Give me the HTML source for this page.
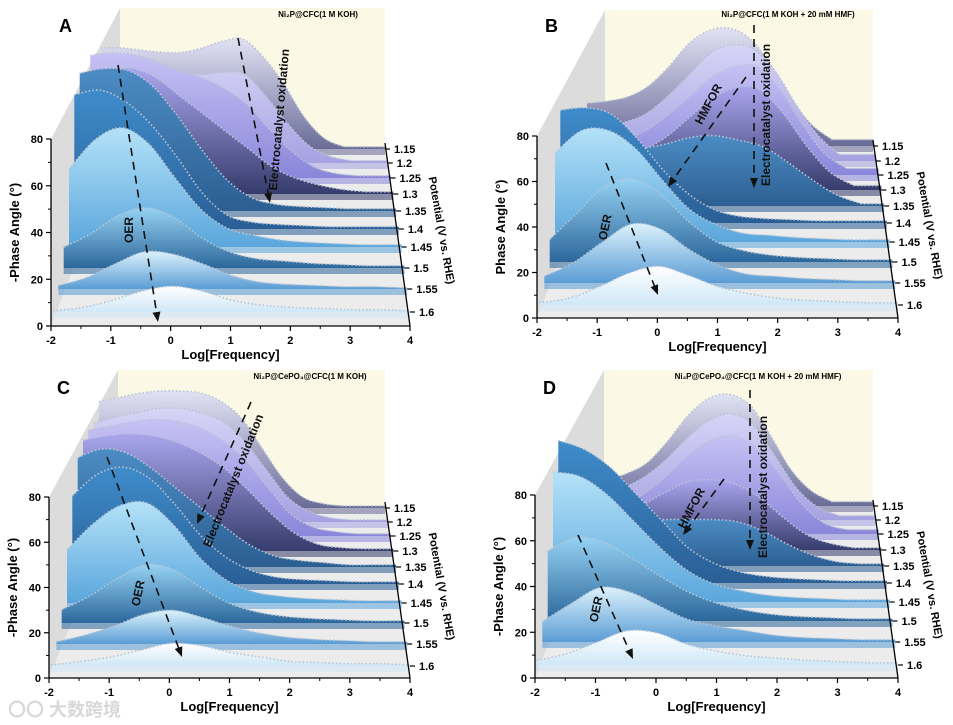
<!DOCTYPE html>
<html><head><meta charset="utf-8">
<style>
html,body{margin:0;padding:0;background:#fff;}
svg{display:block;font-family:"Liberation Sans","Noto Sans CJK SC",sans-serif;}
</style></head>
<body>
<svg id="fig" width="953" height="725" viewBox="0 0 953 725"></svg>
<script>
const potentials = ["1.15","1.2","1.25","1.3","1.35","1.4","1.45","1.5","1.55","1.6"];
const logGrid = [-2,-1.5,-1,-0.5,0,0.5,1,1.5,2,2.5,3,3.5,4];
const xTicks = [-2,-1,0,1,2,3,4];
const yTicks = [0,20,40,60,80];

const phaseA = [
 [46,46,45,44,44,46,49,50,42,30,15,5,1],
 [49,49,48,45,41,40,41,40,30,18,8,3,1],
 [55,56,55,52,48,45,40,33,22,12,5,2,1],
 [52,55,56,52,44,36,28,20,12,7,4,2,1],
 [61,63,62,55,42,27,14,6,3,2,1.5,1,1],
 [59,61,56,46,32,16,6,3,2,1.5,1,1,1],
 [34,47,52,45,30,16,8,5,3,2,1.5,1,1],
 [9,15,23,26,22,13,7,4,3,2,1.5,1,1],
 [1.5,5,11,16,15,11,6,3,2,1.5,1,1,0.5],
 [0.5,2,5,9,11,9,5,3,2,1.5,1,1,0.5]
];
const phaseB = [
 [20,21,23,28,37,48,54,55,50,38,22,10,3],
 [14,16,18,22,30,40,50,54,52,42,26,12,3],
 [12,14,16,20,27,36,45,50,50,40,24,10,3],
 [10,12,14,18,24,33,42,47,46,35,20,8,2],
 [20,22,24,26,28,31,32,30,27,20,12,5,1],
 [51,52,49,38,24,13,6,3,2,1.5,1,1,1],
 [40,50,50,42,28,15,8,4,3,2,1.5,1,1],
 [10,22,34,37,30,18,9,5,3,2,1.5,1,1],
 [3,9,18,26,24,15,8,4,3,2,1.5,1,1],
 [1,3,8,14,17,13,8,5,3,2,1.5,1,1]
];
const phaseC = [
 [50,52,54,55,55,54,50,42,28,14,5,2,1],
 [46,49,51,53,53,51,47,38,25,12,5,2,1],
 [49,51,53,54,53,50,44,35,22,10,4,2,1],
 [51,53,54,53,50,45,38,28,17,8,3,1.5,1],
 [50,54,52,45,36,27,18,10,5,3,2,1,1],
 [40,50,53,48,36,22,12,6,3,2,1.5,1,1],
 [24,36,44,45,35,20,10,5,3,2,1.5,1,1],
 [6,12,20,26,24,16,9,5,3,2,1.5,1,1],
 [1,4,8,13,15,12,8,5,3,2,1.5,1,1],
 [0.5,2,4,7,10,9,6,4,2,1.5,1,1,0.5]
];
const phaseD = [
 [10,12,15,20,30,42,50,52,47,33,17,7,2],
 [10,12,15,20,28,38,46,49,44,30,15,6,2],
 [8,10,13,18,26,36,43,45,40,28,14,5,2],
 [10,12,15,20,26,31,32,30,24,15,7,3,1],
 [15,17,19,20,21,21,21,20,16,10,5,2,1],
 [64,60,52,40,28,16,9,5,3,2,1.5,1,1],
 [58,56,48,36,24,14,8,5,3,2,1.5,1,1],
 [31,37,35,28,20,13,8,5,3,2,1.5,1,1],
 [9,17,24,22,16,10,7,5,3,2,1.5,1,1],
 [2,5,10,15,14,9,6,4,3,2,1.5,1,1]
];

const topCol = ["#e2e2f4","#d6d4f6","#c6c2f4","#aaa6ee","#4c8cc4","#3f8ccb","#b4e2f8","#96d2f2","#dcf2fc","#ffffff"];
const botCol = ["#6a6c98","#a6a2e2","#8a86da","#363c6c","#2c5f92","#2a5f96","#5aa6dc","#2c679c","#5a9cd4","#cfe8f7"];

const NS="http://www.w3.org/2000/svg";
const fig=document.getElementById('fig');
function mk(tag,attrs,parent){const e=document.createElementNS(NS,tag);for(const k in attrs)e.setAttribute(k,attrs[k]);(parent||fig).appendChild(e);return e;}

const defs=mk('defs',{});
topCol.forEach((c,i)=>{
  const g=mk('linearGradient',{id:'g'+i,x1:0,y1:0,x2:0,y2:1},defs);
  mk('stop',{offset:'0','stop-color':c},g);
  mk('stop',{offset:'1','stop-color':botCol[i]},g);
});

const panels=[
 {id:'a',ox:0,oy:0,ax0:51,ax1:410,y0:326,y80:139,bl:120,bt:8,letter:'A',title:'Ni₂P@CFC(1 M KOH)',tx:318,yt:'-Phase Angle (°)',
  lab:[149,163,178,194,211,229,247,268,289,312],data:phaseA,
  arrows:[[118,65,158,322],[238,38,270,203]],
  texts:[['OER',133,230,-90],['Electrocatalyst oxidation',283,120,-85]]},
 {id:'b',ox:476,oy:0,ax0:61,ax1:422,y0:318,y80:136,bl:129,bt:10,letter:'B',title:'Ni₂P@CFC(1 M KOH + 20 mM HMF)',tx:312,yt:'Phase Angle (°)',
  lab:[146,161,175,190,206,223,242,262,283,305],data:phaseB,
  arrows:[[130,163,182,295],[270,77,192,187],[278,25,278,188]],
  texts:[['OER',133,228,-78],['HMFOR',236,106,-62],['Electrocatalyst oxidation',294,115,-90]]},
 {id:'c',ox:0,oy:362,ax0:49,ax1:410,y0:316,y80:135,bl:118,bt:8,letter:'C',title:'Ni₂P@CePO₄@CFC(1 M KOH)',tx:310,yt:'-Phase Angle (°)',
  lab:[146,160,174,189,205,222,241,261,282,304],data:phaseC,
  arrows:[[107,95,182,295],[251,40,197,162]],
  texts:[['OER',142,232,-78],['Electrocatalyst oxidation',237,120,-68]]},
 {id:'d',ox:476,oy:362,ax0:59,ax1:422,y0:316,y80:133,bl:128,bt:8,letter:'D',title:'Ni₂P@CePO₄@CFC(1 M KOH + 20 mM HMF)',tx:282,yt:'-Phase Angle (°)',
  lab:[144,158,172,188,204,221,240,259,280,303],data:phaseD,
  arrows:[[102,173,157,297],[248,117,207,173],[274,28,274,188]],
  texts:[['OER',124,248,-78],['HMFOR',219,148,-62],['Electrocatalyst oxidation',291,125,-90]]}
];

function smoothPath(pts){
  let d='';
  for(let i=0;i<pts.length-1;i++){
    const p0=pts[Math.max(0,i-1)],p1=pts[i],p2=pts[i+1],p3=pts[Math.min(pts.length-1,i+2)];
    const c1x=p1[0]+(p2[0]-p0[0])/6,c1y=p1[1]+(p2[1]-p0[1])/6;
    const c2x=p2[0]-(p3[0]-p1[0])/6,c2y=p2[1]-(p3[1]-p1[1])/6;
    d+=` C${c1x.toFixed(1)},${c1y.toFixed(1)} ${c2x.toFixed(1)},${c2y.toFixed(1)} ${p2[0].toFixed(1)},${p2[1].toFixed(1)}`;
  }
  return d;
}

panels.forEach(P=>{
  const g=mk('g',{transform:`translate(${P.ox},${P.oy})`});
  
  
  const n=potentials.length;
  const depth=i=>(n-1-i)/(n-1);
  const xL=i=>P.ax0+2+48*depth(i);
  const xR=i=>P.ax1-25*depth(i);
  const xRt=i=>P.ax1-66*depth(i);
  const xOf=(i,L)=>xL(i)+(L+2)/6*(xRt(i)-xL(i));
  const sc=i=>(P.y0-P.y80)/80*(1-0.06*depth(i));
  const yAx=v=>P.y0-(v/80)*(P.y0-P.y80);
  const xAx=L=>P.ax0+(L+2)/6*(P.ax1-P.ax0);
  const backR=P.ax1-25;

  const side=mk('polygon',{points:`${P.ax0},${P.y80} ${P.bl},${P.bt} ${P.bl},${P.lab[0]} ${P.ax0},${P.y0}`,fill:'#dcdcdc'},g);
  
  
  const back=mk('rect',{x:P.bl,y:P.bt,width:backR-P.bl,height:P.lab[0]-P.bt,fill:'#fbf9e5'},g);
  
  
  const floor=mk('polygon',{points:`${P.ax0},${P.y0} ${P.ax1},${P.y0} ${backR},${P.lab[0]} ${P.bl},${P.lab[0]}`,fill:'#ececec'},g);
  
  

  P.data.forEach((vals,i)=>{
    const pts=[];
    vals.forEach((v,k)=>{ if(v!==null) pts.push([xOf(i,logGrid[k]),P.lab[i]-v*sc(i)]); });
    const base=P.lab[i];
    const last=pts[pts.length-1];
    const endX=xR(i);
    const band=mk('rect',{x:pts[0][0],y:base,width:endX-pts[0][0],height:6,fill:botCol[i],opacity:0.55},g);
    
    
    const curve=`M${pts[0][0].toFixed(1)},${pts[0][1].toFixed(1)}`+smoothPath(pts)+` L${endX.toFixed(1)},${last[1].toFixed(1)}`;
    const d=`M${pts[0][0].toFixed(1)},${base} L${pts[0][0].toFixed(1)},${pts[0][1].toFixed(1)}`+smoothPath(pts)+` L${endX.toFixed(1)},${last[1].toFixed(1)} L${endX.toFixed(1)},${base} Z`;
    const area=mk('path',{d:d,fill:`url(#g${i})`},g);
    
    
    const line=mk('path',{d:curve,fill:'none',stroke:'#b8c4d4','stroke-width':1.6,'stroke-dasharray':'1.5 2.2'},g);
    
    
  });

  const ya=mk('line',{x1:P.ax0,y1:P.y80,x2:P.ax0,y2:P.y0,stroke:'#000','stroke-width':1.3},g);
  
  
  yTicks.forEach(v=>{
    const y=yAx(v);
    mk('line',{x1:P.ax0-5,y1:y,x2:P.ax0,y2:y,stroke:'#000','stroke-width':1.2},g);
    if(v<80) mk('line',{x1:P.ax0-3,y1:yAx(v+10),x2:P.ax0,y2:yAx(v+10),stroke:'#000','stroke-width':1},g);
    const t=mk('text',{x:P.ax0-8,y:y+4,'text-anchor':'end','font-size':11,'font-weight':'bold'},g);
    t.textContent=v;
    
    
  });
  const yt=mk('text',{transform:`translate(${P.ax0-32},${(P.y0+P.y80)/2}) rotate(-90)`,'text-anchor':'middle','font-size':13,'font-weight':'bold'},g);
  yt.textContent=P.yt;
  
  

  const xa=mk('line',{x1:P.ax0,y1:P.y0,x2:P.ax1,y2:P.y0,stroke:'#000','stroke-width':1.3},g);
  
  
  xTicks.forEach(L=>{
    const x=xAx(L);
    mk('line',{x1:x,y1:P.y0,x2:x,y2:P.y0+5,stroke:'#000','stroke-width':1.2},g);
    if(L<4) mk('line',{x1:xAx(L+0.5),y1:P.y0,x2:xAx(L+0.5),y2:P.y0+3,stroke:'#000','stroke-width':1},g);
    const t=mk('text',{x:x,y:P.y0+18,'text-anchor':'middle','font-size':11,'font-weight':'bold'},g);
    t.textContent=L;
    
    
  });
  const xt=mk('text',{x:(P.ax0+P.ax1)/2,y:P.y0+33,'text-anchor':'middle','font-size':13,'font-weight':'bold'},g);
  xt.textContent='Log[Frequency]';
  
  

  const ra=mk('line',{x1:backR,y1:P.lab[0]-6,x2:P.ax1,y2:P.y0,stroke:'#000','stroke-width':1.3},g);
  
  
  potentials.forEach((p,i)=>{
    const x=xR(i),y=P.lab[i];
    mk('line',{x1:x,y1:y,x2:x+5,y2:y,stroke:'#000','stroke-width':1.2},g);
    const t=mk('text',{x:x+9,y:y+4,'font-size':11,'font-weight':'bold'},g);
    t.textContent=p;
    
    
  });
  const pt=mk('text',{transform:`translate(${P.ax1+28},${(P.lab[3]+P.lab[7])/2}) rotate(80)`,'text-anchor':'middle','font-size':11,'font-weight':'bold'},g);
  pt.textContent='Potential (V vs. RHE)';
  
  

  P.arrows.forEach(a=>{
    const [x1,y1,x2,y2]=a;
    const ang=Math.atan2(y2-y1,x2-x1);
    const l=mk('line',{x1:x1,y1:y1,x2:x2-8*Math.cos(ang),y2:y2-8*Math.sin(ang),stroke:'#111','stroke-width':1.6,'stroke-dasharray':'8 6'},g);
    
    
    const hx=x2,hy=y2;
    const p1=[hx-10*Math.cos(ang)+4*Math.sin(ang),hy-10*Math.sin(ang)-4*Math.cos(ang)];
    const p2=[hx-10*Math.cos(ang)-4*Math.sin(ang),hy-10*Math.sin(ang)+4*Math.cos(ang)];
    const h=mk('polygon',{points:`${hx},${hy} ${p1[0]},${p1[1]} ${p2[0]},${p2[1]}`,fill:'#111'},g);
    
    
  });
  P.texts.forEach(tx=>{
    const t=mk('text',{transform:`translate(${tx[1]},${tx[2]}) rotate(${tx[3]})`,'text-anchor':'middle','font-size':12,'font-weight':'bold',fill:'#111'},g);
    t.textContent=tx[0];
    
    
  });

  const lt=mk('text',{x:P.ax0+8,y:32,'font-size':18,'font-weight':'bold'},g);
  lt.textContent=P.letter;
  
  
  const tt=mk('text',{x:P.tx,y:17,'text-anchor':'middle','font-size':8,'font-weight':'bold'},g);
  tt.textContent=P.title;
  
  
});

const wm=mk('text',{x:8,y:716,'font-size':18,fill:'#d8d8d8','font-weight':'bold'});
wm.textContent='〇〇 大数跨境';


</script>
</body></html>
